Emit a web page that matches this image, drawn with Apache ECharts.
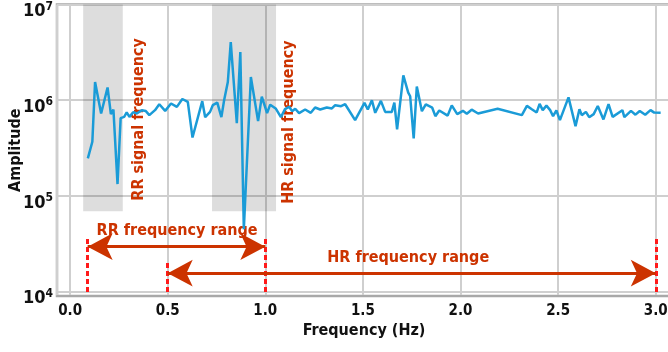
<!DOCTYPE html>
<html>
<head>
<meta charset="utf-8">
<script src="https://cdn.jsdelivr.net/npm/echarts@6/dist/echarts.min.js"></script>
<style>
html,body{margin:0;padding:0;background:#fff;}
#chart{width:668px;height:352px;}
</style>
</head>
<body>
<div id="chart"></div>
<script>
// Frequency (Hz)
const freq = [0.091,0.114,0.128,0.159,0.192,0.209,0.222,0.243,0.259,0.277,0.290,0.304,0.323,0.342,0.367,0.388,0.406,0.435,0.457,0.487,0.517,0.547,0.575,0.603,0.627,0.677,0.692,0.717,0.731,0.754,0.775,0.789,0.808,0.823,0.854,0.872,0.890,0.926,0.963,0.982,1.009,1.025,1.053,1.080,1.101,1.122,1.137,1.153,1.173,1.204,1.233,1.255,1.281,1.315,1.341,1.358,1.388,1.409,1.460,1.508,1.525,1.546,1.563,1.592,1.614,1.648,1.661,1.675,1.707,1.732,1.742,1.760,1.776,1.802,1.822,1.855,1.871,1.891,1.934,1.955,1.983,2.012,2.032,2.057,2.090,2.190,2.314,2.340,2.365,2.390,2.405,2.421,2.440,2.459,2.474,2.491,2.509,2.553,2.589,2.609,2.621,2.642,2.659,2.682,2.703,2.732,2.758,2.779,2.829,2.839,2.873,2.896,2.918,2.946,2.973,2.992,3.025];
// Amplitude
const amplitude = [247000,368000,1550000,727000,1360000,715000,800000,133000,650000,670000,745000,670000,750000,727000,787000,770000,698000,787000,908000,774000,924000,851000,1030000,960000,408000,977000,665000,755000,887000,942000,665000,1000000,1550000,4050000,575000,3190000,44800,1750000,605000,1090000,733000,898000,820000,665000,806000,855000,768000,815000,733000,800000,738000,839000,800000,839000,820000,887000,866000,908000,619000,937000,800000,1000000,738000,984000,755000,755000,946000,495000,1820000,1200000,1100000,399000,1390000,768000,904000,835000,681000,781000,690000,883000,715000,774000,722000,796000,727000,815000,698000,873000,806000,745000,915000,787000,877000,787000,681000,781000,619000,1070000,536000,806000,698000,755000,665000,715000,870000,629000,908000,670000,787000,665000,774000,706000,772000,706000,787000,742000,738000];

const xTicks = [0.0,0.5,1.0,1.5,2.0,2.5,3.0];
const yTicks = [1e4,1e5,1e6,1e7];

// Annotation values (data space)
const rrBand = [0.067, 0.27];
const hrBand = [0.727, 1.055];
const bandBottom = 69000;
const rrRange = [0.09, 1.0];
const hrRange = [0.5, 3.0];
const rrArrowY = 29500;
const hrArrowY = 15600;
const rrDashTop = 37000;
const hrDashTop = 19900;
const dashBottom = 9900;
const texts = {
  rrRange: {label: 'RR frequency range', at: [0.548, 42900]},
  hrRange: {label: 'HR frequency range', at: [1.732, 22400]},
  rrSignal: {label: 'RR signal frequency', at: [0.353, 630000]},
  hrSignal: {label: 'HR signal frequency', at: [1.122, 590000]}
};

const FONT = "'DejaVu Sans Condensed','DejaVu Sans',sans-serif";
const ORANGE = '#cc3300';
const RED = '#ff1a1a';

const chart = echarts.init(document.getElementById('chart'), null, {renderer: 'canvas'});

const dashStyle = {color: RED, width: 3, type: [5, 3]};
const arrowStyle = {color: ORANGE, width: 3, type: 'solid'};

function dash(x, top) {
  return [{coord: [x, dashBottom], symbol: 'none', lineStyle: dashStyle}, {coord: [x, top], symbol: 'none'}];
}
function arrow(r, y) {
  return [{coord: [r[0], y], symbol: 'arrow', symbolSize: [20, 25], lineStyle: arrowStyle},
          {coord: [r[1], y], symbol: 'arrow', symbolSize: [20, 25]}];
}
function textPoint(t, rotate) {
  return {
    coord: t.at, symbol: 'circle', symbolSize: 1, itemStyle: {color: 'rgba(0,0,0,0)'},
    label: {show: true, position: 'inside', formatter: t.label, rotate: rotate || 0,
      color: ORANGE, fontFamily: FONT, fontWeight: 'bold', fontSize: 16}
  };
}

const option = {
  animation: false,
  backgroundColor: '#fff',
  grid: {left: 57, top: 4.5, bottom: 56, right: -3, outerBoundsMode: 'none', containLabel: false,
    show: true, borderColor: '#a8a8a8', borderWidth: 2.5, backgroundColor: 'transparent'},
  xAxis: {
    type: 'value', min: -0.067, max: 3.078, splitNumber: 6,
    name: 'Frequency (Hz)', nameLocation: 'middle', nameGap: 27, nameMoveOverlap: false,
    nameTextStyle: {fontFamily: FONT, fontWeight: 'bold', fontSize: 16, color: '#111'},
    axisLine: {show: true, lineStyle: {color: '#a8a8a8', width: 2}},
    axisTick: {show: false},
    axisLabel: {
      margin: 8, fontFamily: FONT, fontWeight: 'bold', fontSize: 15, color: '#111',
      showMinLabel: false, showMaxLabel: false,
      formatter: v => xTicks.some(t => Math.abs(t - v) < 1e-6) ? v.toFixed(1) : ''
    },
    splitLine: {show: true, lineStyle: {color: '#cfcfcf', width: 2}}
  },
  yAxis: {
    type: 'log', logBase: 10, min: 9000, max: 1e7,
    name: 'Amplitude', nameLocation: 'middle', nameGap: 33, nameMoveOverlap: false,
    nameTextStyle: {fontFamily: FONT, fontWeight: 'bold', fontSize: 16, color: '#111'},
    axisLine: {show: false},
    axisTick: {show: false},
    axisLabel: {
      margin: 4, color: '#111', padding: [12, 0, 0, 0],
      showMinLabel: false,
      formatter: v => {
        const e = Math.log10(v);
        if (Math.abs(e - Math.round(e)) > 1e-6) return '';
        if (!yTicks.some(t => Math.abs(Math.log10(t) - e) < 1e-6)) return '';
        return '{b|10}{s|' + Math.round(e) + '}';
      },
      rich: {
        b: {fontFamily: FONT, fontWeight: 'bold', fontSize: 18, color: '#111', verticalAlign: 'bottom'},
        s: {fontFamily: FONT, fontWeight: 'bold', fontSize: 12, color: '#111', verticalAlign: 'top', padding: [0, 0, 8, 0]}
      }
    },
    splitLine: {show: true, lineStyle: {color: '#cfcfcf', width: 2}}
  },
  series: [{
    type: 'line',
    data: freq.map((f, i) => [f, amplitude[i]]),
    showSymbol: false,
    symbol: 'none',
    lineStyle: {color: '#1a9bd7', width: 2.5},
    itemStyle: {color: '#1a9bd7'},
    z: 5,
    markArea: {
      silent: true,
      itemStyle: {color: 'rgba(0,0,0,0.135)'},
      data: [
        [{coord: [rrBand[0], bandBottom]}, {coord: [rrBand[1], 1e7]}],
        [{coord: [hrBand[0], bandBottom]}, {coord: [hrBand[1], 1e7]}]
      ]
    },
    markLine: {
      silent: true,
      symbol: ['none', 'none'],
      label: {show: false},
      data: [
        dash(rrRange[0], rrDashTop), dash(rrRange[1], rrDashTop),
        dash(hrRange[0], hrDashTop), dash(hrRange[1], rrDashTop),
        arrow(rrRange, rrArrowY), arrow(hrRange, hrArrowY)
      ]
    },
    markPoint: {
      silent: true,
      data: [
        textPoint(texts.rrRange), textPoint(texts.hrRange),
        textPoint(texts.rrSignal, 90), textPoint(texts.hrSignal, 90)
      ]
    }
  }]
};
chart.setOption(option);
</script>
</body>
</html>
